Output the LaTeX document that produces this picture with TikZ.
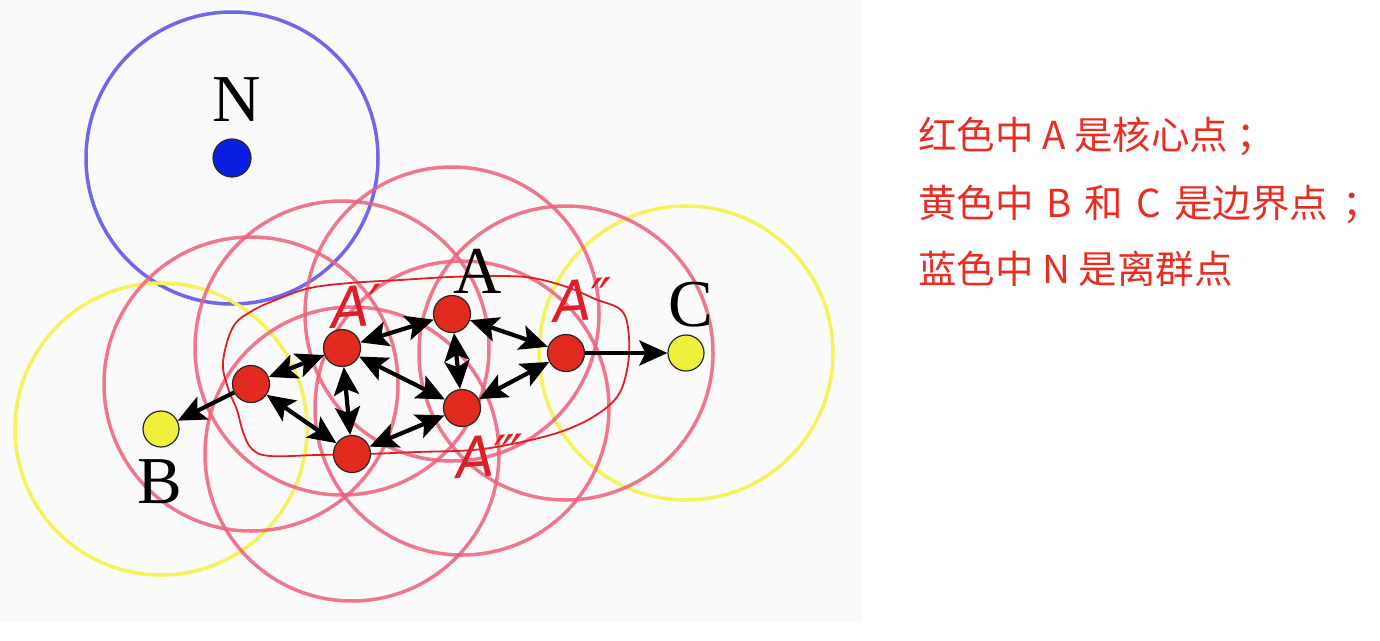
\documentclass[tikz,border=0pt]{standalone}
\usepackage{fontspec}
\setmainfont{Liberation Serif}
\newfontfamily\cjk{Noto Sans CJK SC}
\newfontfamily\hand{DejaVu Sans}
\usetikzlibrary{arrows.meta}
\definecolor{ringred}{RGB}{238,95,122}
\definecolor{ringyel}{RGB}{246,242,90}
\definecolor{ringblue}{RGB}{112,102,236}
\definecolor{dotred}{RGB}{226,42,30}
\definecolor{dotyel}{RGB}{240,240,60}
\definecolor{dotblue}{RGB}{10,30,225}
\definecolor{ink}{RGB}{222,32,38}
\definecolor{txtred}{RGB}{232,45,35}
\definecolor{bgpanel}{RGB}{250,250,250}
\newcommand{\gapsp}[1]{\hspace{#1}}
\begin{document}
\begin{tikzpicture}[x=1pt,y=-1pt,
  dotbase/.style={circle,draw=black!85,line width=1.2pt,minimum size=37pt,inner sep=0pt},
  core/.style={dotbase,fill=dotred},
  border/.style={dotbase,fill=dotyel,minimum size=36pt},
  noise/.style={dotbase,fill=dotblue,minimum size=38pt},
  redring/.style={draw=ringred,draw opacity=0.85,line width=3.5pt},
  yelring/.style={draw=ringyel,line width=3.5pt},
  bluering/.style={draw=ringblue,line width=3.5pt},
  tip/.tip={Stealth[length=28pt,width=25pt,inset=6pt]},
  link/.style={line width=4.2pt,tip-tip},
  onelink/.style={line width=4.2pt,-tip},
  lab/.style={inner sep=0pt,font=\fontsize{67}{67}\selectfont},
  hw/.style={inner sep=0pt,text=ink,font=\hand\itshape\fontsize{56}{56}\selectfont},
  cn/.style={anchor=west,inner sep=0pt,text=txtred,font=\cjk\fontsize{38.5}{40}\selectfont},
  outline/.style={draw=ink,line width=1.8pt}
]
\useasboundingbox (0,0) rectangle (1380,640);
\fill[bgpanel] (0,0) rectangle (862,622);

% positions
\coordinate (pN) at (232,158);
\coordinate (pA) at (452,314);
\coordinate (p1) at (251,384);
\coordinate (p2) at (342,348);
\coordinate (p4) at (566,353);
\coordinate (p5) at (462,408);
\coordinate (p6) at (352,454);
\coordinate (pB) at (161,429);
\coordinate (pC) at (686,353);

% neighbourhood rings
\draw[bluering] (pN) circle (146);
\draw[yelring] (pB) circle (146);
\draw[yelring] (pC) circle (147);
\foreach \p in {p1,p2,pA,p4,p5,p6} \draw[redring] (\p) circle (147);

% hand-drawn outline
\draw[outline] plot[smooth cycle, tension=0.6] coordinates {
  (223,362) (233,327) (252,311) (278,299) (310,288) (350,283) (400,280)
  (450,277) (500,276) (533,278) (567,287) (595,299) (622,311) (629,338)
  (627,370) (617,397) (593,417) (560,432) (517,443) (473,450) (417,452)
  (367,454) (317,455) (270,456) (252,449) (243,432) (237,410) (228,388)};

% handwritten labels
\node[hw,rotate=4] (hA1) at (357,306) {A′};
\node[hw,rotate=4] (hA2) at (583,300) {A″};
\node[hw,rotate=4] (hA3) at (490,456) {A‴};

% points
\node[noise] (N) at (pN) {};
\node[core] (A) at (pA) {};
\node[core] (r1) at (p1) {};
\node[core] (r2) at (p2) {};
\node[core] (r4) at (p4) {};
\node[core] (r5) at (p5) {};
\node[core] (r6) at (p6) {};
\node[border] (B) at (pB) {};
\node[border] (C) at (pC) {};

% connectors
\draw[link] (r1) -- (r2);
\draw[link] (r2) -- (A);
\draw[link] (A) -- (r4);
\draw[link] (A) -- (r5);
\draw[link] (r2) -- (r5);
\draw[link] (r2) -- (r6);
\draw[link] (r1) -- (r6);
\draw[link] (r6) -- (r5);
\draw[link] (r5) -- (r4);
\draw[onelink] (r1) -- (B);
\draw[onelink] (r4) -- (C);

% letters
\node[lab] (lN) at (237,100) {N};
\node[lab] (lA) at (478,271) {A};
\node[lab] (lB) at (160,482) {B};
\node[lab] (lC) at (691,305) {C};

% explanation
\node[cn] (t1) at (918,136) {红色中 A 是核心点\gapsp{8pt}；};
\node[cn] (t2) at (918,204) {黄色中\gapsp{13pt}B\gapsp{13pt}和\gapsp{13pt}C\gapsp{13pt}是边界点\gapsp{14pt}；};
\node[cn] (t3) at (918,269) {蓝色中 N 是离群点};
\end{tikzpicture}
\end{document}
